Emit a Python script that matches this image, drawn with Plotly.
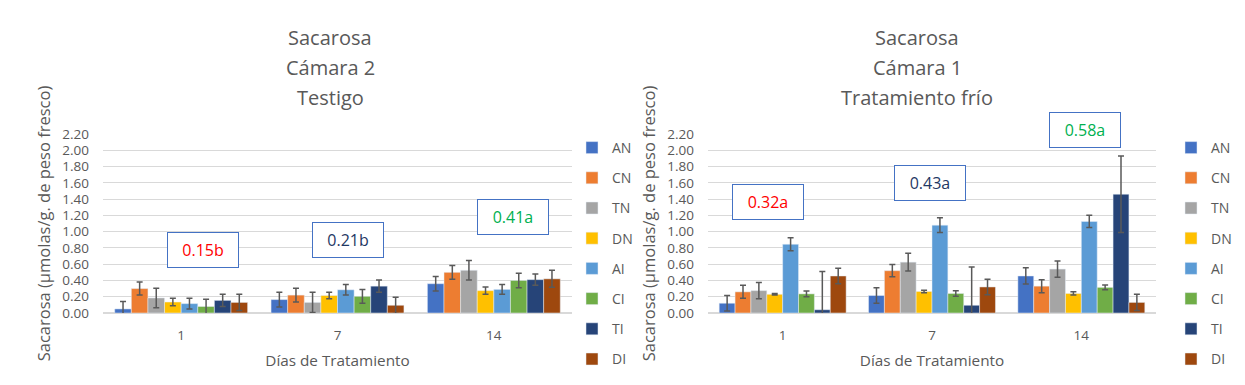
import plotly.graph_objects as go

days = ["1", "7", "14"]
series = ["AN", "CN", "TN", "DN", "AI", "CI", "TI", "DI"]
colors = ["#4472C4", "#ED7D31", "#A5A5A5", "#FFC000", "#5B9BD5", "#70AD47", "#264478", "#9E480E"]

# Left chart: Cámara 2, Testigo  (values per series for days 1, 7, 14)
left_AN = [0.05, 0.165, 0.36]
left_CN = [0.30, 0.22, 0.50]
left_TN = [0.185, 0.13, 0.525]
left_DN = [0.135, 0.215, 0.275]
left_AI = [0.115, 0.285, 0.29]
left_CI = [0.08, 0.205, 0.40]
left_TI = [0.155, 0.33, 0.41]
left_DI = [0.13, 0.095, 0.42]

left_err_AN = [0.09, 0.09, 0.09]
left_err_CN = [0.08, 0.085, 0.085]
left_err_TN = [0.12, 0.125, 0.12]
left_err_DN = [0.045, 0.04, 0.045]
left_err_AI = [0.065, 0.065, 0.06]
left_err_CI = [0.09, 0.085, 0.09]
left_err_TI = [0.075, 0.075, 0.07]
left_err_DI = [0.10, 0.10, 0.105]

# Right chart: Cámara 1, Tratamiento frío
right_AN = [0.12, 0.215, 0.455]
right_CN = [0.26, 0.52, 0.33]
right_TN = [0.275, 0.625, 0.54]
right_DN = [0.23, 0.265, 0.24]
right_AI = [0.845, 1.08, 1.125]
right_CI = [0.235, 0.24, 0.315]
right_TI = [0.04, 0.095, 1.46]
right_DI = [0.455, 0.32, 0.13]

right_err_AN = [0.095, 0.095, 0.10]
right_err_CN = [0.08, 0.075, 0.08]
right_err_TN = [0.10, 0.11, 0.10]
right_err_DN = [0.01, 0.015, 0.02]
right_err_AI = [0.08, 0.09, 0.075]
right_err_CI = [0.035, 0.035, 0.03]
right_err_TI = [0.47, 0.47, 0.47]
right_err_DI = [0.095, 0.095, 0.10]

left_vals = [left_AN, left_CN, left_TN, left_DN, left_AI, left_CI, left_TI, left_DI]
left_errs = [left_err_AN, left_err_CN, left_err_TN, left_err_DN, left_err_AI, left_err_CI, left_err_TI, left_err_DI]
right_vals = [right_AN, right_CN, right_TN, right_DN, right_AI, right_CI, right_TI, right_DI]
right_errs = [right_err_AN, right_err_CN, right_err_TN, right_err_DN, right_err_AI, right_err_CI, right_err_TI, right_err_DI]

left_means = ["0.15b", "0.21b", "0.41a"]
right_means = ["0.32a", "0.43a", "0.58a"]
mean_colors = ["#FF0000", "#1F3864", "#00B050"]

y_ticks = [0.0, 0.2, 0.4, 0.6, 0.8, 1.0, 1.2, 1.4, 1.6, 1.8, 2.0, 2.2]

FONT = "Open Sans"
GRAY = "#595959"

fig = go.Figure()
for i, name in enumerate(series):
    fig.add_trace(go.Bar(
        x=days, y=left_vals[i], name=name, marker_color=colors[i],
        error_y=dict(type="data", array=left_errs[i], color="#595959", thickness=1.5, width=3),
        xaxis="x", yaxis="y", legend="legend", legendgroup="L" + name,
    ))
for i, name in enumerate(series):
    fig.add_trace(go.Bar(
        x=days, y=right_vals[i], name=name, marker_color=colors[i],
        error_y=dict(type="data", array=right_errs[i], color="#595959", thickness=1.5, width=3),
        xaxis="x2", yaxis="y2", legend="legend2", legendgroup="R" + name,
    ))

W, H = 1245, 385
yaxis_common = dict(
    range=[0, 2.2], tickvals=y_ticks, tickformat=".2f",
    gridcolor="#D9D9D9", gridwidth=1, zeroline=True, zerolinecolor="#D9D9D9",
    tickfont=dict(family=FONT, size=13.5, color=GRAY), ticklabelstandoff=13,
    showline=False, ticks="", automargin=False,
    title=dict(text="Sacarosa (µmolas/g. de peso fresco)", font=dict(family=FONT, size=16.5, color=GRAY), standoff=7),
)
xaxis_common = dict(
    type="category",
    tickfont=dict(family=FONT, size=13.5, color=GRAY), ticklabelstandoff=12,
    showline=False, ticks="", automargin=False,
    title=dict(text="Días de Tratamiento", font=dict(family=FONT, size=15.3, color=GRAY), standoff=12),
)

legend_common = dict(
    font=dict(family=FONT, size=14, color=GRAY),
    tracegroupgap=9, yanchor="top", xanchor="left", bgcolor="rgba(0,0,0,0)",
    itemwidth=30,
)

fig.update_layout(
    width=W, height=H,
    margin=dict(l=0, r=0, t=0, b=0, autoexpand=False),
    paper_bgcolor="white", plot_bgcolor="white",
    barmode="group", bargap=0.15, bargroupgap=0,
    xaxis=dict(domain=[103 / W, 572 / W], anchor="y", **xaxis_common),
    yaxis=dict(domain=[(H - 313) / H, (H - 134) / H], anchor="x", **yaxis_common),
    xaxis2=dict(domain=[708 / W, 1156 / W], anchor="y2", **xaxis_common),
    yaxis2=dict(domain=[(H - 313) / H, (H - 134) / H], anchor="x2", **yaxis_common),
    legend=dict(x=572 / W, y=(H - 132) / H, **legend_common),
    legend2=dict(x=1171 / W, y=(H - 132) / H, **legend_common),
    showlegend=True,
)

# Titles
title_rows = [37, 68, 98]
for cx, lines in [(330, ["Sacarosa", "Cámara 2", "Testigo"]), (917, ["Sacarosa", "Cámara 1", "Tratamiento frío"])]:
    for t, ry in zip(lines, title_rows):
        fig.add_annotation(
            text=t, x=cx / W, y=(H - ry) / H, xref="paper", yref="paper",
            showarrow=False, xanchor="center", yanchor="middle",
            font=dict(family=FONT, size=20, color=GRAY),
        )

# Mean boxes
left_pos = [(203, 250), (348, 240), (513, 217)]
right_pos = [(768, 202), (930, 183), (1085, 130)]
for texts, pos in [(left_means, left_pos), (right_means, right_pos)]:
    for k, (t, (px, py)) in enumerate(zip(texts, pos)):
        fig.add_annotation(
            text=t, x=px / W, y=(H - py) / H, xref="paper", yref="paper",
            showarrow=False, xanchor="center", yanchor="middle",
            font=dict(family=FONT, size=16, color=mean_colors[k]),
            bordercolor="#4472C4", borderwidth=1, borderpad=8,
            width=54, height=18, bgcolor="white",
        )

fig.write_html(
    "out.html",
    config={"displayModeBar": False},
    post_script="document.body.style.margin='0';document.body.style.overflow='hidden';",
)
